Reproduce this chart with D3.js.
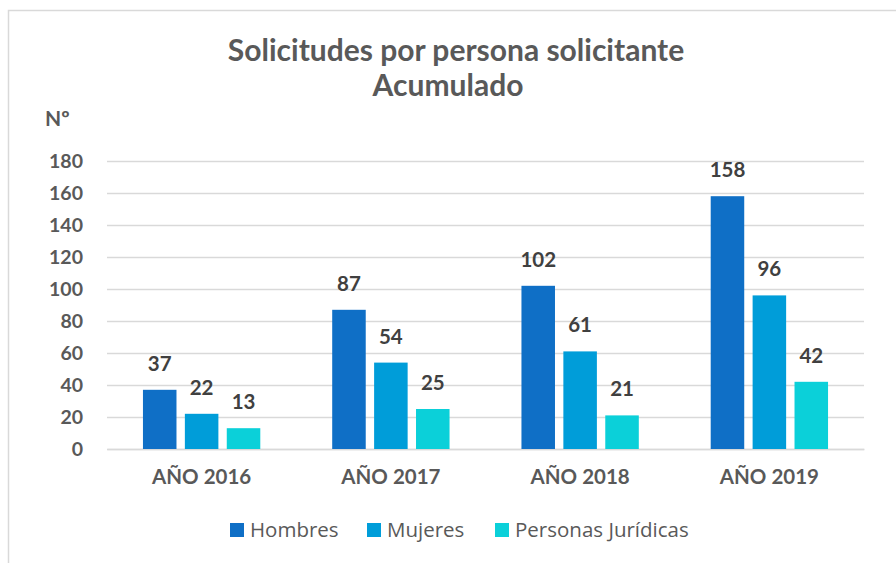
<!DOCTYPE html>
<html>
<head>
<meta charset="utf-8">
<script src="https://cdn.jsdelivr.net/npm/d3@7"></script>
<style>
  body { margin: 0; background: #fff; }
  svg { display: block; }
</style>
</head>
<body>
<div id="container"></div>
<script>
// data we work with
let years = ["AÑO 2016", "AÑO 2017", "AÑO 2018", "AÑO 2019"];
let series = ["Hombres", "Mujeres", "Personas Jurídicas"];
let hombres = [37, 87, 102, 158];
let mujeres = [22, 54, 61, 96];
let juridicas = [13, 25, 21, 42];
let yTicks = [0, 20, 40, 60, 80, 100, 120, 140, 160, 180];
let colors = ["#0F6FC6", "#009DD9", "#0BD0D9"];

let values = [hombres, mujeres, juridicas];

let w = 896;
let h = 563;
let plotLeft = 107, plotRight = 864, plotTop = 161, plotBottom = 449;

let viz = d3.select("#container")
  .append("svg")
    .attr("width", w)
    .attr("height", h)
;

// chart area border
viz.append("rect")
  .attr("x", 8.5).attr("y", 10.5)
  .attr("width", w + 20).attr("height", h + 20)
  .attr("fill", "none")
  .attr("stroke", "#d9d9d9")
  .attr("stroke-width", 1.5);

let yScale = d3.scaleLinear().domain([0, 180]).range([plotBottom, plotTop]);

let xScale = d3.scaleBand()
  .domain(years)
  .range([plotLeft, plotRight])
  .paddingInner(0.38)
  .paddingOuter(0.19);

let xSub = d3.scaleBand()
  .domain(series)
  .range([0, xScale.bandwidth()])
  .paddingInner(0.2);

// gridlines
let yAxis = d3.axisLeft(yScale)
  .tickValues(yTicks)
  .tickSize(-(plotRight - plotLeft))
  .tickPadding(24);
let yAxisGroup = viz.append("g").attr("transform", "translate(" + plotLeft + ",0)");
yAxisGroup.call(yAxis);
yAxisGroup.select(".domain").remove();
yAxisGroup.selectAll("line").attr("stroke", "#d9d9d9").attr("stroke-width", 1.5);
yAxisGroup.selectAll("text")
  .attr("font-family", "Lato, sans-serif")
  .attr("font-weight", "bold")
  .attr("font-size", 19.5)
  .attr("fill", "#595959");

let xAxis = d3.axisBottom(xScale).tickSize(0).tickPadding(20);
let xAxisGroup = viz.append("g").attr("transform", "translate(0," + plotBottom + ")");
xAxisGroup.call(xAxis);
xAxisGroup.select(".domain").attr("stroke", "#d9d9d9").attr("stroke-width", 1.5);
xAxisGroup.selectAll("text")
  .attr("font-family", "Lato, sans-serif")
  .attr("font-weight", "bold")
  .attr("font-size", 20.5)
  .attr("fill", "#595959");

// bars
let flat = [];
years.forEach(function(yr, i){
  series.forEach(function(s, j){
    flat.push({year: yr, series: s, value: values[j][i], color: colors[j]});
  });
});

function getX(d){ return xScale(d.year) + xSub(d.series); }
function getY(d){ return yScale(d.value); }

viz.selectAll("rect.bar").data(flat).enter()
  .append("rect")
    .attr("class", "bar")
    .attr("x", getX)
    .attr("y", getY)
    .attr("width", xSub.bandwidth())
    .attr("height", function(d){ return plotBottom - getY(d); })
    .attr("fill", function(d){ return d.color; });

viz.selectAll("text.lbl").data(flat).enter()
  .append("text")
    .attr("class", "lbl")
    .attr("x", function(d){ return getX(d) + xSub.bandwidth() / 2; })
    .attr("y", function(d){ return getY(d) - 19; })
    .attr("text-anchor", "middle")
    .attr("font-family", "Lato, sans-serif")
    .attr("font-weight", "bold")
    .attr("font-size", 20.5)
    .attr("fill", "#404040")
    .text(function(d){ return d.value; });

// title
viz.append("text")
  .attr("x", 456).attr("y", 61)
  .attr("text-anchor", "middle")
  .attr("font-family", "Lato, sans-serif")
  .attr("font-weight", "bold")
  .attr("font-size", 30)
  .attr("fill", "#595959")
  .text("Solicitudes por persona solicitante");
viz.append("text")
  .attr("x", 448).attr("y", 96)
  .attr("text-anchor", "middle")
  .attr("font-family", "Lato, sans-serif")
  .attr("font-weight", "bold")
  .attr("font-size", 30)
  .attr("fill", "#595959")
  .text("Acumulado");

// axis title
viz.append("text")
  .attr("x", 45).attr("y", 126)
  .attr("font-family", "Lato, sans-serif")
  .attr("font-weight", "bold")
  .attr("font-size", 21)
  .attr("fill", "#595959")
  .text("Nº");

// legend
let legendX = [230, 367, 495];
let legend = viz.selectAll("g.leg").data(series).enter()
  .append("g")
    .attr("class", "leg")
    .attr("transform", function(d, i){ return "translate(" + legendX[i] + ",523)"; });
legend.append("rect")
  .attr("width", 14).attr("height", 14)
  .attr("fill", function(d, i){ return colors[i]; });
legend.append("text")
  .attr("x", 20).attr("y", 13.5)
  .attr("font-family", "'Open Sans', sans-serif")
  .attr("font-size", 20.5)
  .attr("fill", "#595959")
  .text(function(d){ return d; });
</script>
</body>
</html>
